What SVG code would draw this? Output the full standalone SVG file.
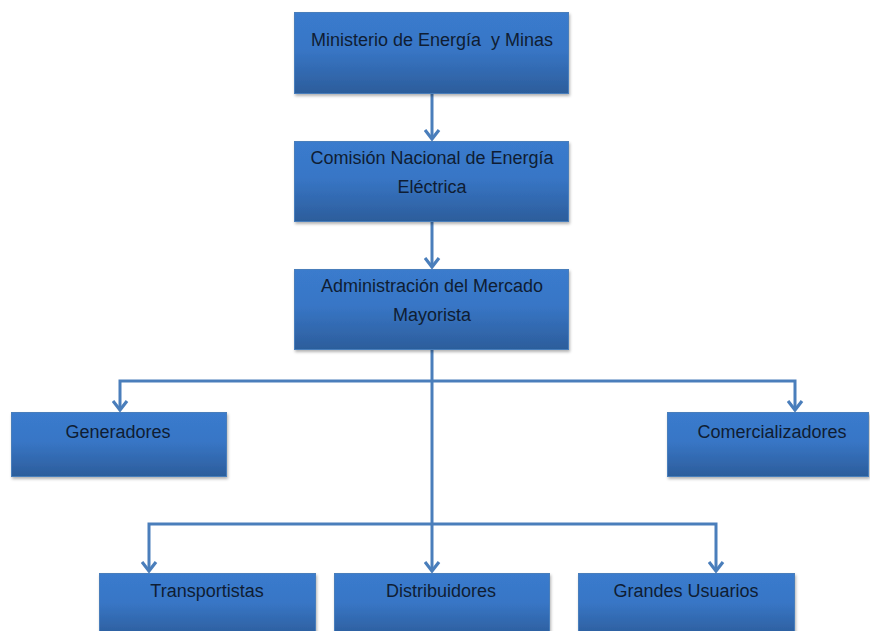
<svg xmlns="http://www.w3.org/2000/svg" width="870" height="631" viewBox="0 0 870 631">
<defs>
<linearGradient id="g" x1="0" y1="0" x2="0" y2="1">
<stop offset="0" stop-color="#3a7bcd"/>
<stop offset="0.45" stop-color="#3876c6"/>
<stop offset="1" stop-color="#2c5d9b"/>
</linearGradient>
<filter id="sh" x="-5%" y="-5%" width="115%" height="120%">
<feDropShadow dx="1" dy="2" stdDeviation="1.5" flood-color="#000" flood-opacity="0.3"/>
</filter>
<marker id="ar" markerWidth="12" markerHeight="17" refX="10" refY="8.5" orient="auto" markerUnits="userSpaceOnUse" viewBox="0 0 12 17">
<path d="M1,1.5 L10,8.5 L1,15.5" fill="none" stroke="#4a7ebb" stroke-width="3.2" stroke-linejoin="miter"/>
</marker>
</defs>
<style>
.box{fill:url(#g);stroke:#4a7ebb;stroke-width:1;filter:url(#sh)}
.t{font-family:"Liberation Sans",Arial,sans-serif;font-size:18px;fill:#0f1d33;text-anchor:middle;white-space:pre}
.c{fill:none;stroke:#4a7ebb;stroke-width:3}
</style>
<rect width="870" height="631" fill="#fff"/>
<g id="connectors">
<path class="c" d="M432,93 V139" marker-end="url(#ar)"/>
<path class="c" d="M432,222 V267" marker-end="url(#ar)"/>
<path class="c" d="M432,350 V571" marker-end="url(#ar)"/>
<path class="c" d="M432,381 H120 V410" marker-end="url(#ar)"/>
<path class="c" d="M432,381 H795 V410" marker-end="url(#ar)"/>
<path class="c" d="M432,524 H149 V571" marker-end="url(#ar)"/>
<path class="c" d="M432,524 H716 V571" marker-end="url(#ar)"/>
</g>
<g id="n1"><rect class="box" x="294.5" y="12.5" width="274" height="81"/><text class="t" x="432" y="46" xml:space="preserve">Ministerio de Energía  y Minas</text></g>
<g id="n2"><rect class="box" x="294.5" y="141.5" width="274" height="80"/><text class="t" x="432" y="164">Comisión Nacional de Energía</text><text class="t" x="432" y="193">Eléctrica</text></g>
<g id="n3"><rect class="box" x="294.5" y="269.5" width="274" height="80"/><text class="t" x="432" y="292">Administración del Mercado</text><text class="t" x="432" y="321">Mayorista</text></g>
<g id="n4"><rect class="box" x="11.5" y="412.5" width="215" height="64"/><text class="t" x="118" y="438">Generadores</text></g>
<g id="n5"><rect class="box" x="667.5" y="412.5" width="201" height="64"/><text class="t" x="772" y="438">Comercializadores</text></g>
<g id="n6"><rect class="box" x="99.5" y="573.5" width="216" height="64"/><text class="t" x="207" y="597">Transportistas</text></g>
<g id="n7"><rect class="box" x="334.5" y="573.5" width="215" height="64"/><text class="t" x="441" y="597">Distribuidores</text></g>
<g id="n8"><rect class="box" x="578.5" y="573.5" width="216" height="64"/><text class="t" x="686" y="597">Grandes Usuarios</text></g>
</svg>
